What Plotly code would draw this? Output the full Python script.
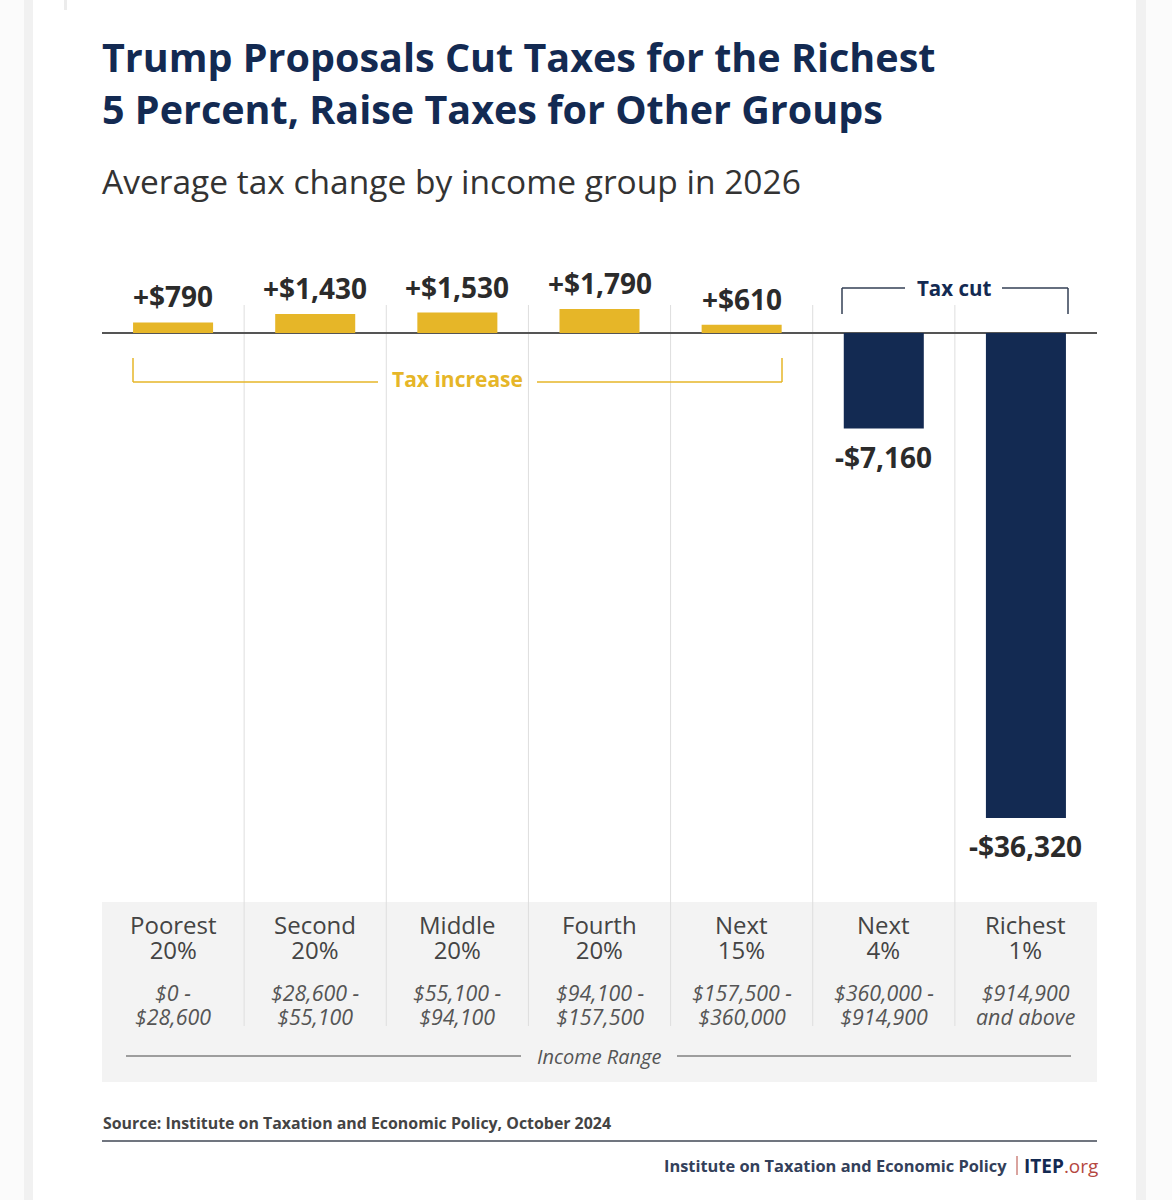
# tax change by income group, ITEP style chart

import plotly.graph_objects as go

groups = ["Poorest 20%", "Second 20%", "Middle 20%", "Fourth 20%", "Next 15%", "Next 4%", "Richest 1%"]
tax_change = [790, 1430, 1530, 1790, 610, -7160, -36320]
group_lines = [("Poorest", "20%"), ("Second", "20%"), ("Middle", "20%"), ("Fourth", "20%"), ("Next", "15%"), ("Next", "4%"), ("Richest", "1%")]
income_ranges = [
    ("$0 -", "$28,600"),
    ("$28,600 -", "$55,100"),
    ("$55,100 -", "$94,100"),
    ("$94,100 -", "$157,500"),
    ("$157,500 -", "$360,000"),
    ("$360,000 -", "$914,900"),
    ("$914,900", "and above"),
]

NAVY = "#132a52"
GOLD = "#e6b628"
FONT = "Open Sans"
W, H = 1172, 1200


# reference is measured in pixels, so shapes and text go through these
def px(x):
    return x / W


def py(y):
    return 1 - y / H


def rect(x0, y0, x1, y1, color):
    return dict(type="rect", xref="paper", yref="paper", x0=px(x0), x1=px(x1), y0=py(y0), y1=py(y1),
                fillcolor=color, line_width=0, layer="below")


def seg(x0, y0, x1, y1, color, width=1.5):
    return dict(type="line", xref="paper", yref="paper", x0=px(x0), x1=px(x1), y0=py(y0), y1=py(y1),
                line=dict(color=color, width=width))


def label(x, y, text, size, color, anchor="center", xref="paper"):
    xval = px(x) if xref == "paper" else x
    return dict(x=xval, y=py(y), xref=xref, yref="paper", text=text, showarrow=False, xanchor=anchor,
                yanchor="middle", align=anchor, font=dict(family=FONT, size=size, color=color))


# line spacing follows the annotation font, so tight two line labels use a bigger inner span
def tight(lines, size, extra=""):
    return "<br>".join("<span style='font-size:%spx'>%s</span>" % (size, extra + t) for t in lines)


value_text = [("+" if v > 0 else "-") + "$" + format(abs(v), ",") for v in tax_change]
bar_colors = [GOLD if v > 0 else NAVY for v in tax_change]

fig = go.Figure()
fig.add_trace(go.Bar(
    x=list(range(len(groups))),
    y=tax_change,
    width=0.563,
    marker=dict(color=bar_colors, line_width=0),
    customdata=value_text,
    text=groups,
    textposition="none",
    hovertemplate="%{text}: %{customdata}<extra></extra>",
))

shapes = [
    # page edges around the card
    rect(0, 0, 24, 1200, "#fbfbfb"),
    rect(24, 0, 33, 1200, "#f1f1f1"),
    rect(1136, 0, 1146, 1200, "#f1f1f1"),
    rect(1146, 0, 1172, 1200, "#fbfbfb"),
    rect(64, 0, 67, 10, "#ececec"),
    # income panel
    rect(102, 902, 1097, 1082, "#f3f3f3"),
    # income range rule
    seg(126, 1056, 521, 1056, "#808080"),
    seg(677, 1056, 1071, 1056, "#808080"),
    # footer rule
    seg(102, 1141, 1097, 1141, "#70757f", 2),
    seg(1017, 1156, 1017, 1175, "#b5483f", 1),
    # tax increase bracket
    seg(133, 358, 133, 382, GOLD),
    seg(133, 382, 378, 382, GOLD),
    seg(537, 382, 782, 382, GOLD),
    seg(782, 358, 782, 382, GOLD),
    # tax cut bracket
    seg(842, 288, 842, 314, "#333f55"),
    seg(842, 288, 905, 288, "#333f55"),
    seg(1002, 288, 1068, 288, "#333f55"),
    seg(1068, 288, 1068, 314, "#333f55"),
]

# separators between the groups
for i in range(len(groups) - 1):
    shapes.append(dict(type="line", xref="x", yref="paper", x0=i + 0.5, x1=i + 0.5, y0=py(1026), y1=py(305),
                       line=dict(color="#dedede", width=1), layer="below"))

annotations = [
    label(100, 57, "<b>Trump Proposals Cut Taxes for the Richest</b>", 39.5, NAVY, "left"),
    label(100, 109, "<b>5 Percent, Raise Taxes for Other Groups</b>", 39.5, NAVY, "left"),
    label(100, 181, "Average tax change by income group in 2026", 33.5, "#333333", "left"),
    label(457.5, 379, "<b>Tax increase</b>", 21, GOLD),
    label(953.5, 288, "<b>Tax cut</b>", 20.5, NAVY),
    label(599, 1056, "<i>Income Range</i>", 20, "#555555"),
    label(101, 1123, "<b>Source: Institute on Taxation and Economic Policy, October 2024</b>", 15.9, "#444444", "left"),
    label(1009, 1165, "<b>Institute on Taxation and Economic Policy</b>", 16.4, "#33405a", "right"),
    label(1100, 1166, "<b>ITEP</b><span style='color:#b5483f'>.org</span>", 19, NAVY, "right"),
]
for i in range(len(groups)):
    # value labels sit just off the bar end
    annotations.append(dict(x=i, y=tax_change[i], xref="x", yref="y", text="<b>" + value_text[i] + "</b>",
                            showarrow=False, yanchor="middle", yshift=26 if tax_change[i] > 0 else -28,
                            font=dict(family=FONT, size=28, color="#2b2b2b")))
    annotations.append(label(i, 937, tight(group_lines[i], 24), 19.2, "#444444", xref="x"))
    ranges = ["<i>" + t + "</i>" for t in income_ranges[i]]
    annotations.append(label(i, 1004, tight(ranges, 21.4), 18.5, "#555555", xref="x"))

fig.update_layout(
    width=W,
    height=H,
    margin=dict(l=0, r=0, t=0, b=0),
    paper_bgcolor="white",
    plot_bgcolor="rgba(0,0,0,0)",
    showlegend=False,
    shapes=shapes,
    annotations=annotations,
    xaxis=dict(domain=[px(102), px(1097)], range=[-0.5, 6.5], visible=False),
    yaxis=dict(domain=[py(900), py(270)], range=[-42470, 4720], showgrid=False, showticklabels=False,
               zeroline=True, zerolinecolor="#555555", zerolinewidth=2),
)

fig.write_html("out.html", config=dict(displayModeBar=False), post_script="document.body.style.margin='0';")
